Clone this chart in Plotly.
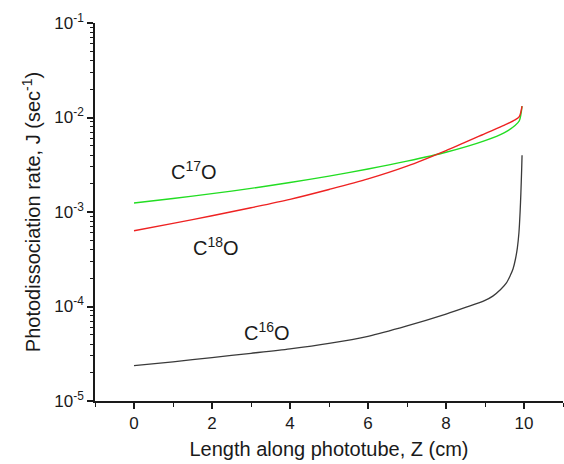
import plotly.graph_objects as go

# Position along the phototube (cm) and photodissociation rates J (s^-1)
z_c17o = [0, 1, 2, 3, 4, 5, 6, 7, 8, 9, 9.5, 9.77, 9.88, 9.95]
j_c17o = [1.245e-3, 1.390e-3, 1.563e-3, 1.778e-3, 2.051e-3, 2.399e-3, 2.851e-3,
          3.451e-3, 4.285e-3, 5.689e-3, 6.918e-3, 8.222e-3, 9.226e-3, 1.318e-2]

z_c18o = [0, 1, 2, 3, 4, 5, 6, 7, 8, 9, 9.5, 9.77, 9.88, 9.95]
j_c18o = [6.339e-4, 7.586e-4, 9.120e-4, 1.109e-3, 1.361e-3, 1.730e-3, 2.239e-3,
          3.055e-3, 4.467e-3, 6.761e-3, 8.318e-3, 9.419e-3, 1.023e-2, 1.318e-2]

z_c16o = [0, 1, 2, 3, 4, 5, 6, 7, 8, 8.5, 9.0, 9.2, 9.4, 9.55, 9.65, 9.72,
          9.78, 9.83, 9.87, 9.90, 9.92, 9.94, 9.95]
j_c16o = [2.366e-5, 2.600e-5, 2.884e-5, 3.199e-5, 3.565e-5, 4.074e-5, 4.842e-5,
          6.237e-5, 8.318e-5, 9.772e-5, 1.161e-4, 1.288e-4, 1.514e-4, 1.778e-4,
          2.138e-4, 2.512e-4, 3.162e-4, 4.169e-4, 6.026e-4, 1.000e-3, 1.585e-3,
          2.818e-3, 3.981e-3]

x_ticks = [0, 2, 4, 6, 8, 10]
y_ticks = [1e-5, 1e-4, 1e-3, 1e-2, 1e-1]
y_ticktext = ["10<sup>-5</sup>", "10<sup>-4</sup>", "10<sup>-3</sup>",
              "10<sup>-2</sup>", "10<sup>-1</sup>"]

FONT = "Liberation Sans, Arial, sans-serif"
INK = "#1a1a1a"

fig = go.Figure()
fig.add_trace(go.Scatter(x=z_c17o, y=j_c17o, mode="lines",
                         line=dict(color="#22dd22", width=1.4, shape="spline", smoothing=0.8),
                         name="C17O"))
fig.add_trace(go.Scatter(x=z_c18o, y=j_c18o, mode="lines",
                         line=dict(color="#ee2222", width=1.4, shape="spline", smoothing=0.8),
                         name="C18O"))
fig.add_trace(go.Scatter(x=z_c16o, y=j_c16o, mode="lines",
                         line=dict(color="#3a3a3a", width=1.3, shape="spline", smoothing=0.8),
                         name="C16O"))

labels = [
    ("C<sup>17</sup>O", 1.54, -2.556),
    ("C<sup>18</sup>O", 2.10, -3.36),
    ("C<sup>16</sup>O", 3.40, -4.26),
]
for txt, lx, ly in labels:
    fig.add_annotation(x=lx, y=ly, xref="x", yref="y", text=txt, showarrow=False,
                       font=dict(family=FONT, size=20, color=INK))

# minor tick positions on the log axis: 2..9 within each decade
minor_vals = [m * 10.0 ** e for e in range(-5, -1) for m in range(2, 10)]

fig.update_layout(
    width=564, height=464,
    margin=dict(l=95, r=1, t=23, b=63),
    paper_bgcolor="white", plot_bgcolor="white",
    showlegend=False,
    font=dict(family=FONT, color=INK),
    xaxis=dict(
        range=[-1, 11], tickvals=x_ticks, ticks="outside", ticklen=6, tickwidth=1.5,
        tickcolor=INK, showline=True, linecolor=INK, linewidth=1.6, showgrid=False,
        zeroline=False, tickfont=dict(size=17, family=FONT, color=INK),
        minor=dict(dtick=1, tick0=1, ticks="outside", ticklen=4, tickwidth=1.3,
                   tickcolor=INK, showgrid=False),
        title=dict(text="Length along phototube, Z (cm)", standoff=10,
                   font=dict(size=20, family=FONT, color=INK)),
    ),
    yaxis=dict(
        type="log", range=[-5, -1], tickmode="array", tickvals=y_ticks, ticktext=y_ticktext,
        ticks="outside", ticklen=6, tickwidth=1.5, tickcolor=INK, showline=True,
        linecolor=INK, linewidth=1.6, showgrid=False, zeroline=False,
        tickfont=dict(size=17, family=FONT, color=INK),
        minor=dict(tickmode="array", tickvals=minor_vals, ticks="outside", ticklen=3,
                   tickwidth=1.2, tickcolor=INK, showgrid=False),
        title=dict(text="Photodissociation rate, J (sec<sup>-1</sup>)", standoff=8,
                   font=dict(size=20, family=FONT, color=INK)),
    ),
)

fig.write_html("out.html")
